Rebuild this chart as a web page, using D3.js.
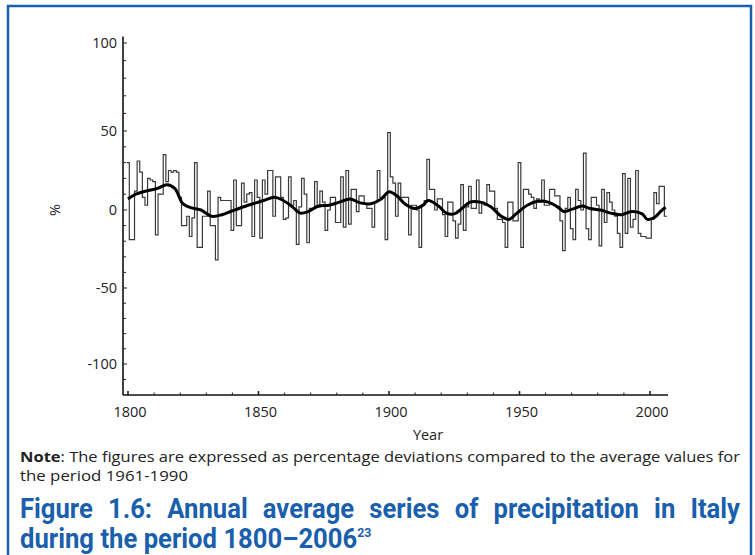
<!DOCTYPE html>
<html>
<head>
<meta charset="utf-8">
<script src="https://cdn.jsdelivr.net/npm/d3@7"></script>
<style>
  body { margin: 0; background: #fff; }
  svg { display: block; }
</style>
</head>
<body>
<svg id="chart"></svg>
<script>
let width = 755;
let height = 555;

// annual precipitation anomaly (%), one value per year starting 1800
const startYear = 1800;
const anomalies = [
  30, -19, -19, 12, 31, 24, 8, 3, 20, 19,
  18, -16, 10, 10, 35, 18, 25, 24, 25, 24,
  8, -10, -10, -4, -17, -5, 30, -24, -24, -4,
  -4, 12, -10, -10, -32, 8, 6, 6, 6, 6,
  -13, 19, -10, -10, 17, 5, 10, 11, -17, 19,
  8, -18, 19, 10, 25, 25, -4, 21, 21, 8,
  -6, -5, 21, 3, 6, -22, 2, 20, 10, -21,
  1, 1, 18, 2, 12, 5, -13, 0, 8, 8,
  -8, -8, 21, -11, 25, -9, 13, 13, -1, 9,
  9, 4, 1, 1, -11, 5, 25, 8, 8, -19,
  49, 21, 17, -4, 17, 8, 8, 8, -16, 3,
  3, 0, -24, 3, 6, 32, 13, 13, 0, 7,
  7, -3, -17, 5, 5, -7, -18, -9, 16, -13,
  2, 15, 1, 1, 19, -2, 5, 3, 16, 12,
  12, 1, -6, -6, -8, -24, 5, 5, -7, -7,
  30, -24, 13, 13, 10, 8, 1, 7, 5, 19,
  3, 3, 13, 13, 9, 9, -7, -26, 1, 8,
  -12, -19, 13, 6, 0, 36, -12, -19, 8, 8,
  3, -23, 13, -8, 11, 5, 0, -4, -15, -24,
  23, -15, 20, -11, -6, 25, -15, -17, -17, -18,
  -18, -6, 11, 4, 15, 15, -4
];

// smoothed series
const smoothYears = [1800, 1803, 1807, 1811, 1815, 1818, 1821, 1824, 1828, 1832,
  1836, 1840, 1846, 1852, 1856, 1859, 1863, 1866, 1869, 1873,
  1877, 1881, 1885, 1889, 1893, 1897, 1900, 1903, 1906, 1910,
  1913, 1915, 1919, 1922, 1925, 1928, 1931, 1935, 1939, 1943,
  1946, 1949, 1953, 1957, 1961, 1965, 1967, 1970, 1974, 1977,
  1981, 1985, 1989, 1993, 1997, 1999, 2002, 2004, 2006];
const smoothValues = [7, 10, 12, 13.5, 16, 13.5, 4, 1.5, 0, -4,
  -3, -0.5, 3, 6, 8, 6.5, 2, -2, -1, 2.5,
  3, 5, 7, 4.5, 4, 7, 11.5, 9, 4, 1,
  3, 6, 2.5, -2, -2.5, 1, 5, 5, 2, -4,
  -6, -2, 3, 5.5, 5, 1.5, -1, 0.4, 2.5, 1,
  0, -2, -3, -1, -2.5, -6, -4.5, -1, 1.7];

const yearTicks = [1800, 1850, 1900, 1950, 2000];
const pctTicks = [100, 50, 0, -50, -100];

const blue = "#1a5fad";
const textFont = "'Open Sans', Lato, sans-serif";

let svg = d3.select("#chart")
  .attr("width", width)
  .attr("height", height);

// frame
svg.append("path")
  .attr("d", "M8,560 L8,6 L751,6 L751,560")
  .attr("fill", "none")
  .attr("stroke", blue)
  .attr("stroke-width", 2.5);

let x = d3.scaleLinear().domain([1800, 2000]).range([128, 650]);
// the scanned axis is not quite even, so map each labelled tick
let y = d3.scaleLinear()
  .domain([-120, -100, -50, 0, 50, 100, 110])
  .range([395, 364, 288, 210, 131, 43, 27]);

let axisX0 = 123, axisY0 = 395;

// y axis
svg.append("line")
  .attr("x1", axisX0).attr("x2", axisX0)
  .attr("y1", y(104)).attr("y2", axisY0)
  .attr("stroke", "#111").attr("stroke-width", 1.6);

svg.selectAll(".ytick")
  .data(d3.range(-110, 101, 10))
  .enter().append("line")
  .attr("x1", axisX0)
  .attr("x2", (d) => d % 50 == 0 ? axisX0 + 4 : axisX0 + 3)
  .attr("y1", (d) => y(d)).attr("y2", (d) => y(d))
  .attr("stroke", "#222").attr("stroke-width", 1);

svg.selectAll(".ylab")
  .data(pctTicks)
  .enter().append("text")
  .attr("x", axisX0 - 6)
  .attr("y", (d) => y(d) + 5)
  .attr("text-anchor", "end")
  .style("font-family", textFont)
  .style("font-size", "14.5px")
  .attr("fill", "#222")
  .text((d) => d);

svg.append("text")
  .attr("transform", `translate(60, ${y(0)}) rotate(-90)`)
  .attr("text-anchor", "middle")
  .style("font-family", textFont)
  .style("font-size", "14.5px")
  .attr("fill", "#222")
  .text("%");

// x axis
svg.append("line")
  .attr("x1", axisX0).attr("x2", 668)
  .attr("y1", axisY0).attr("y2", axisY0)
  .attr("stroke", "#111").attr("stroke-width", 1.6);

svg.selectAll(".xtick")
  .data(d3.range(1800, 2001, 10))
  .enter().append("line")
  .attr("x1", (d) => x(d)).attr("x2", (d) => x(d))
  .attr("y1", axisY0)
  .attr("y2", (d) => d % 50 == 0 ? axisY0 - 4 : axisY0 - 2.5)
  .attr("stroke", "#222")
  .attr("stroke-width", (d) => d % 50 == 0 ? 1.6 : 1);

svg.selectAll(".xlab")
  .data(yearTicks)
  .enter().append("text")
  .attr("x", (d) => x(d) + 2)
  .attr("y", 417)
  .attr("text-anchor", "middle")
  .style("font-family", textFont)
  .style("font-size", "14.5px")
  .attr("fill", "#222")
  .text((d) => d);

svg.append("text")
  .attr("x", 428).attr("y", 440)
  .attr("text-anchor", "middle")
  .style("font-family", textFont)
  .style("font-size", "14.5px")
  .attr("fill", "#222")
  .text("Year");

// annual step line
let stepPts = [];
anomalies.forEach(function(v, i) {
  let yr = startYear + i;
  stepPts.push([yr - 0.5, v]);
  stepPts.push([yr + 0.5, v]);
});

svg.append("path")
  .datum(stepPts)
  .attr("fill", "none")
  .attr("stroke", "#3a3a3a")
  .attr("stroke-width", 1.2)
  .attr("d", d3.line().x((d) => x(d[0])).y((d) => y(d[1])));

// smoothed curve
svg.append("path")
  .datum(smoothYears.map((yr, i) => [yr, smoothValues[i]]))
  .attr("fill", "none")
  .attr("stroke", "#000")
  .attr("stroke-width", 3)
  .attr("d", d3.line().curve(d3.curveCatmullRom).x((d) => x(d[0])).y((d) => y(d[1])));

// note
let note = svg.append("text")
  .attr("x", 20).attr("y", 462)
  .attr("textLength", 720)
  .attr("lengthAdjust", "spacingAndGlyphs")
  .style("font-family", textFont)
  .style("font-size", "15px")
  .attr("fill", "#222");
note.append("tspan").style("font-weight", "bold").text("Note");
note.append("tspan").text(": The figures are expressed as percentage deviations compared to the average values for");

svg.append("text")
  .attr("x", 20).attr("y", 481)
  .attr("textLength", 168)
  .attr("lengthAdjust", "spacingAndGlyphs")
  .style("font-family", textFont)
  .style("font-size", "15px")
  .attr("fill", "#222")
  .text("the period 1961-1990");

// title: condensed look by squeezing horizontally, first line justified
let squeeze = 0.95;
let titleG = svg.append("g")
  .attr("transform", `translate(20, 0) scale(${squeeze}, 1)`);

let words = "Figure 1.6: Annual average series of precipitation in Italy".split(" ");
let wordEls = titleG.selectAll(".tw")
  .data(words)
  .enter().append("text")
  .attr("y", 518)
  .style("font-family", "Roboto, sans-serif")
  .style("font-size", "27px")
  .style("font-weight", "bold")
  .attr("fill", blue)
  .text((d) => d);

let widths = [];
wordEls.each(function() { widths.push(this.getComputedTextLength()); });
let gap = (720 / squeeze - d3.sum(widths)) / (words.length - 1);
let cx = 0;
wordEls.attr("x", function(d, i) {
  let pos = cx;
  cx += widths[i] + gap;
  return pos;
});

let t2 = titleG.append("text")
  .attr("x", 0).attr("y", 548)
  .style("font-family", "Roboto, sans-serif")
  .style("font-size", "27px")
  .style("font-weight", "bold")
  .attr("fill", blue);
t2.append("tspan").text("during the period 1800\u20132006");
t2.append("tspan").attr("dy", -11).style("font-size", "13px").text("23");
</script>
</body>
</html>
